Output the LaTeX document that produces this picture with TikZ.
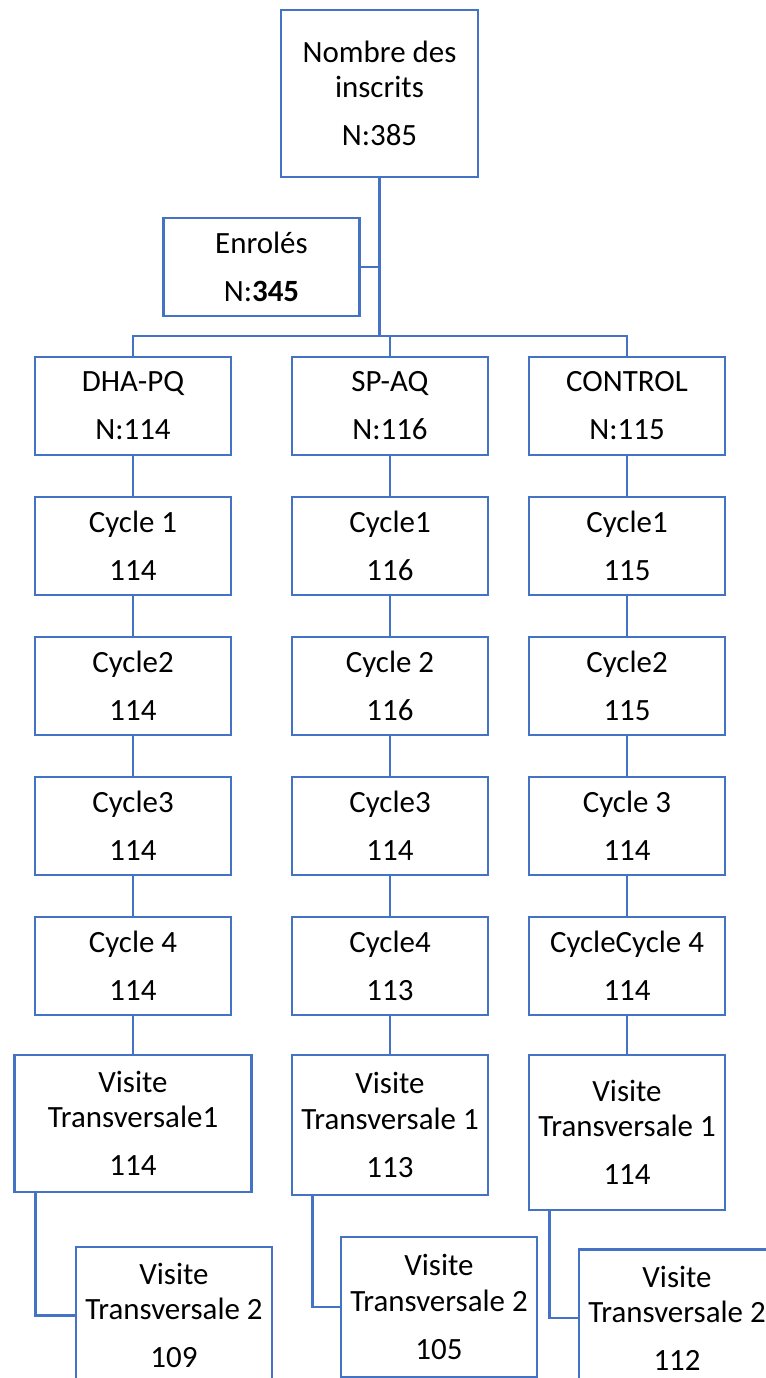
\documentclass[tikz,border=0pt]{standalone}
\usepackage{fontspec}
\setmainfont{Carlito}
\usetikzlibrary{calc}
\definecolor{boxblue}{HTML}{4472C4}

\begin{document}
\begin{tikzpicture}[x=0.02cm, y=-0.02cm, every node/.style={font=\fontsize{17.6}{27.3}\selectfont},
	box/.style={draw=boxblue, line width=1.5pt, align=center, inner sep=0pt, minimum width=3.92cm, minimum height=1.96cm},
	link/.style={draw=boxblue, line width=1.5pt}]
	\clip (0,0) rectangle (766,1378);
	\node[box, minimum width=3.94cm, minimum height=3.34cm] (inscrits) at (379.5,93.5) {Nombre des\\[-7.3pt]inscrits\\N:385};
	\node[box] (enroles) at (261.5,267) {Enrolés\\N:\textbf{345}};
	\coordinate (bar) at (379.5,336);
	\draw[link] (inscrits) -- (bar);
	\draw[link] (enroles) -- (enroles -| bar);
	% three arms, cycles 1 to 4
	\foreach \c/\x/\ta/\tb/\tc/\td/\te in {dha/133/{DHA-PQ\\N:114}/{Cycle 1\\114}/{Cycle2\\114}/{Cycle3\\114}/{Cycle 4\\114},
		sp/390/{SP-AQ\\N:116}/{Cycle1\\116}/{Cycle 2\\116}/{Cycle3\\114}/{Cycle4\\113},
		ctrl/627/{CONTROL\\N:115}/{Cycle1\\115}/{Cycle2\\115}/{Cycle 3\\114}/{CycleCycle 4\\114}} {
		\foreach \r/\t in {0/\ta, 1/\tb, 2/\tc, 3/\td, 4/\te}
			\node[box] (\c\r) at (\x,406+140*\r) {\t};
		\foreach \r in {1,...,4} {\pgfmathtruncatemacro\p{\r-1} \draw[link] (\c\p) -- (\c\r);}
	}
	\draw[link] (dha0) |- (bar) -| (ctrl0);
	\draw[link] (sp0) -- (sp0 |- bar);
	% transversal visits
	\node[box, minimum width=4.74cm, minimum height=2.74cm] (dha5) at (133,1123.5) {Visite\\[-7.3pt]Transversale1\\114};
	\node[box, minimum height=2.8cm] (sp5) at (390,1125) {Visite\\[-7.3pt]Transversale 1\\113};
	\node[box, minimum height=3.1cm] (ctrl5) at (627,1132.5) {Visite\\[-7.3pt]Transversale 1\\114};
	\node[box, minimum height=2.74cm] (dha6) at (174,1315.5) {Visite\\[-7.3pt]Transversale 2\\109};
	\node[box, minimum height=2.8cm] (sp6) at (439,1307) {Visite\\[-7.3pt]Transversale 2\\105};
	\node[box, minimum height=2.74cm] (ctrl6) at (677,1318) {Visite\\[-7.3pt]Transversale 2\\112};
	\foreach \c in {dha,sp,ctrl} {
		\draw[link] (\c4) -- (\c5);
		\draw[link] ($(\c5.south west)+(22,0)$) |- (\c6.west);
	}
\end{tikzpicture}
\end{document}
